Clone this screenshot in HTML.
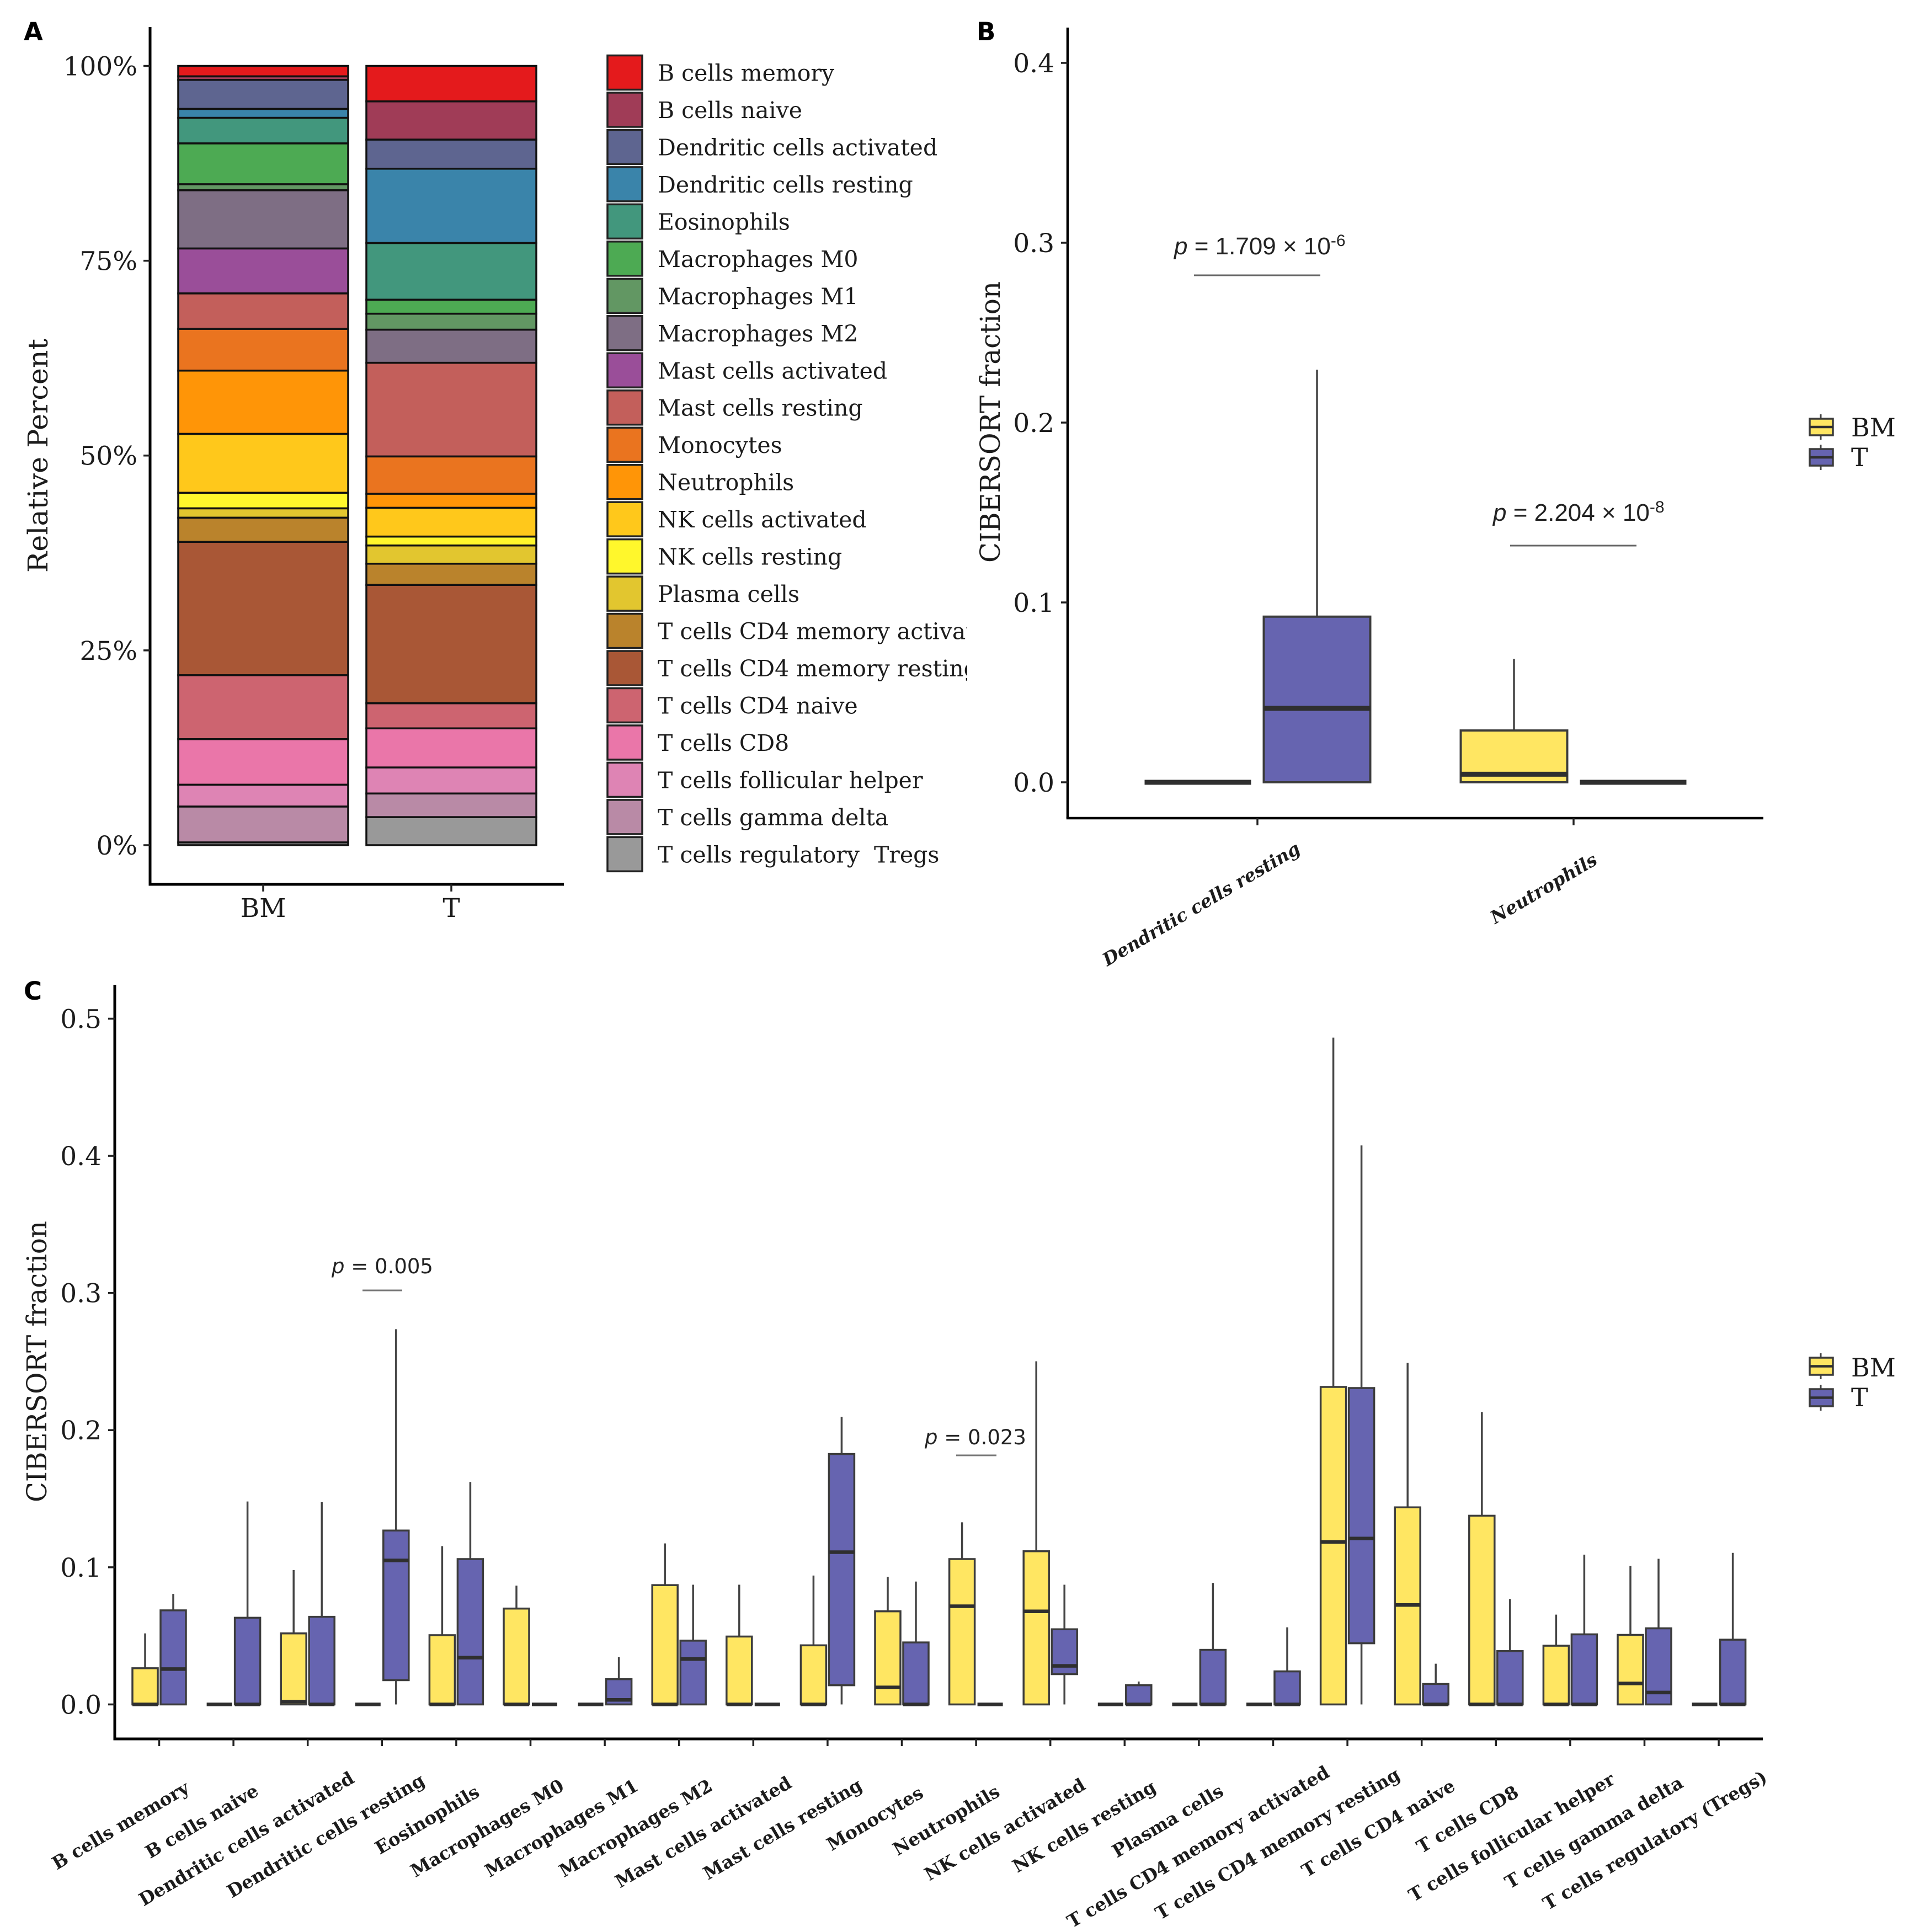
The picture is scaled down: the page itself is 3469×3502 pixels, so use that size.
<!DOCTYPE html>
<html lang="en">
<head>
<meta charset="utf-8">
<title>CIBERSORT immune cell fractions</title>
<style>
html,body{margin:0;padding:0;background:#fff;}
svg{display:block;}
text{font-family:"DejaVu Serif","Liberation Serif",serif;fill:#1c1c1c;white-space:pre;}
.letter{font-family:"DejaVu Sans","Liberation Sans",sans-serif;font-weight:700;font-size:45px;fill:#000;}
.pval{font-family:"DejaVu Sans","Liberation Sans",sans-serif;font-size:37px;fill:#222;}
.pvalb{font-family:"Liberation Sans","DejaVu Sans",sans-serif;font-size:44px;fill:#222;}
</style>
</head>
<body>
<svg id="fig" xmlns="http://www.w3.org/2000/svg" width="3469" height="3502" viewBox="0 0 3469 3502">
  <rect x="0" y="0" width="3469" height="3502" fill="#fff"/>
  <defs><clipPath id="legendClip"><rect x="1090" y="80" width="663" height="1520"/></clipPath></defs>

  <text class="letter" x="43" y="73">A</text>
  <text class="letter" x="1770" y="73">B</text>
  <text class="letter" x="43" y="1812">C</text>

  <g id="panelA">
    <text id="titleA" transform="translate(86,826) rotate(-90)" text-anchor="middle" font-size="50" textLength="424" lengthAdjust="spacingAndGlyphs">Relative Percent</text>
  </g>
  <g id="legendA" clip-path="url(#legendClip)"></g>

  <g id="panelB">
    <text transform="translate(1812,765) rotate(-90)" text-anchor="middle" font-size="50" textLength="510" lengthAdjust="spacingAndGlyphs">CIBERSORT fraction</text>
    <text class="pvalb" x="2128" y="461"><tspan font-style="italic">p</tspan> = 1.709 × 10<tspan dy="-15" font-size="30">-6</tspan></text>
    <line x1="2164" x2="2393" y1="499" y2="499" stroke="#666" stroke-width="3"/>
    <text class="pvalb" x="2706" y="944"><tspan font-style="italic">p</tspan> = 2.204 × 10<tspan dy="-15" font-size="30">-8</tspan></text>
    <line x1="2737" x2="2966" y1="989" y2="989" stroke="#666" stroke-width="3"/>
  </g>

  <g id="panelC">
    <text transform="translate(84,2468) rotate(-90)" text-anchor="middle" font-size="50" textLength="510" lengthAdjust="spacingAndGlyphs">CIBERSORT fraction</text>
    <text class="pval" x="601" y="2308"><tspan font-style="italic">p</tspan> = 0.005</text>
    <line x1="657" x2="729" y1="2339" y2="2339" stroke="#777" stroke-width="3"/>
    <text class="pval" x="1676" y="2618"><tspan font-style="italic">p</tspan> = 0.023</text>
    <line x1="1733" x2="1806" y1="2638" y2="2638" stroke="#777" stroke-width="3"/>
  </g>
</svg>
<script>
/* ---------- Panel A data ---------- */
var stackCategories = ["B cells memory","B cells naive","Dendritic cells activated","Dendritic cells resting","Eosinophils","Macrophages M0","Macrophages M1","Macrophages M2","Mast cells activated","Mast cells resting","Monocytes","Neutrophils","NK cells activated","NK cells resting","Plasma cells","T cells CD4 memory activated","T cells CD4 memory resting","T cells CD4 naive","T cells CD8","T cells follicular helper","T cells gamma delta","T cells regulatory  Tregs"];
var stackColors = ["#e41a1c","#a03c57","#5e6590","#3a84aa","#42977d","#4daa53","#629763","#7e6e84","#9a4e99","#c35f5b","#ea741f","#ff9507","#ffc81b","#fff72c","#e2c62f","#ba832c","#a95736","#cd6470","#ea76a9","#de84b4","#b98aa6","#999999"];
var stackBM = [1.34,0.45,3.73,1.14,3.28,5.24,0.77,7.47,5.76,4.55,5.35,8.12,7.55,2.0,1.2,3.1,17.1,8.2,5.85,2.8,4.6,0.35];
var stackT = [4.55,4.91,3.73,9.54,7.27,1.8,2.05,4.25,0,12.02,4.79,1.8,3.69,1.14,2.34,2.72,15.19,3.22,5.02,3.34,3.03,3.6];
var stackGroups = ["BM","T"];
var stackTicks = [0,25,50,75,100];
var stackTickLabels = ["0%","25%","50%","75%","100%"];

/* ---------- Panel B data ---------- */
var bCategories = ["Dendritic cells resting","Neutrophils"];
var bTicks = [0,0.1,0.2,0.3,0.4];
var bTickLabels = ["0.0","0.1","0.2","0.3","0.4"];
var bBMq1 = [0,0];
var bBMmed = [0,0.0045];
var bBMq3 = [0,0.0288];
var bBMhi = [0,0.0686];
var bBMlo = [0,0];
var bTq1 = [0,0];
var bTmed = [0.0411,0];
var bTq3 = [0.0921,0];
var bThi = [0.2294,0];
var bTlo = [0,0];

/* ---------- Panel C data ---------- */
var cCategories = ["B cells memory","B cells naive","Dendritic cells activated","Dendritic cells resting","Eosinophils","Macrophages M0","Macrophages M1","Macrophages M2","Mast cells activated","Mast cells resting","Monocytes","Neutrophils","NK cells activated","NK cells resting","Plasma cells","T cells CD4 memory activated","T cells CD4 memory resting","T cells CD4 naive","T cells CD8","T cells follicular helper","T cells gamma delta","T cells regulatory (Tregs)"];
var cTicks = [0,0.1,0.2,0.3,0.4,0.5];
var cTickLabels = ["0.0","0.1","0.2","0.3","0.4","0.5"];
var cBMq1 = [0,0,0,0,0,0,0,0,0,0,0,0,0,0,0,0,0,0,0,0,0,0];
var cBMmed = [0,0,0.002,0,0,0,0,0,0,0,0.0124,0.0716,0.0679,0,0,0,0.1184,0.0725,0,0,0.0153,0];
var cBMq3 = [0.0264,0,0.0518,0,0.0505,0.0699,0,0.087,0.0495,0.0431,0.0679,0.106,0.1117,0,0,0,0.2315,0.1437,0.1376,0.0428,0.0507,0];
var cBMhi = [0.0518,0,0.098,0,0.1154,0.0866,0,0.1174,0.0873,0.094,0.093,0.1328,0.2502,0,0,0,0.4862,0.249,0.2132,0.0655,0.1009,0];
var cBMlo = [0,0,0,0,0,0,0,0,0,0,0,0,0,0,0,0,0,0,0,0,0,0];
var cTq1 = [0,0,0,0.0177,0,0,0,0,0,0.014,0,0,0.0221,0,0,0,0.0446,0,0,0,0,0];
var cTmed = [0.0258,0,0,0.105,0.0341,0,0.0033,0.0331,0,0.111,0,0,0.0281,0,0,0,0.121,0,0,0,0.0087,0];
var cTq3 = [0.0686,0.0632,0.0639,0.1268,0.106,0,0.0184,0.0465,0,0.1826,0.0452,0,0.0548,0.014,0.0398,0.0241,0.2307,0.0149,0.0389,0.0511,0.0555,0.0472];
var cThi = [0.0806,0.148,0.1475,0.2736,0.1622,0,0.0344,0.0873,0,0.2097,0.0896,0,0.0873,0.0167,0.0886,0.0562,0.4076,0.0297,0.0769,0.1092,0.1062,0.1105];
var cTlo = [0,0,0,0,0,0,0,0,0,0,0,0,0,0,0,0,0,0,0,0,0,0];

var legendGroups = ["BM","T"];
var YELLOW = "#ffe662", BLUE = "#6664b0", EDGE = "#3c3c3c";
var NS = "http://www.w3.org/2000/svg";

function mk(tag, parent, attrs) {
  var e = document.createElementNS(NS, tag);
  for (var k in attrs) e.setAttribute(k, attrs[k]);
  parent.appendChild(e);
  return e;
}
function linear(zeroPx, pxPerUnit) { return function (v) { return zeroPx - v * pxPerUnit; }; }
function slug(s) { return s.toLowerCase().replace(/[^a-z0-9]+/g, '-').replace(/-$/, ''); }

function drawAxes(parent, x0, top, right, bottom, w, yScale, ticks, labels, labelRight, fs) {
  var yAxis = mk('line', parent, {x1:x0, x2:x0, y1:top, y2:bottom, stroke:'#000', 'stroke-width':w});
  
  
  var xAxis = mk('line', parent, {x1:x0 - w/2, x2:right, y1:bottom, y2:bottom, stroke:'#000', 'stroke-width':w});
  
  
  ticks.forEach(function (t, i) {
    var y = yScale(t);
    var tick = mk('line', parent, {x1:x0 - 12, x2:x0, y1:y, y2:y, stroke:'#222', 'stroke-width':3.5});
    
    
    var lab = mk('text', parent, {x:labelRight, y:y + fs * 0.36, 'text-anchor':'end', 'font-size':fs});
    lab.textContent = labels[i];
    
    
  });
}

/* ---------- Panel A ---------- */
(function () {
  var g = document.getElementById('panelA');
  var yA = linear(1532, 14.125);
  var barX = [323, 664], barW = 308, tickX = [477, 818];
  var series = [stackBM, stackT];
  drawAxes(g, 272, 49, 1022, 1603, 5, yA, stackTicks, stackTickLabels, 249, 47);
  series.forEach(function (vals, s) {
    var total = vals.reduce(function (a, b) { return a + b; }, 0);
    var top = 100;
    vals.forEach(function (v, i) {
      var h = v / total * 100;
      if (h <= 0) return;
      var y1 = yA(top), y2 = yA(top - h);
      var r = mk('rect', g, {x:barX[s], y:y1, width:barW, height:y2 - y1, fill:stackColors[i], stroke:'#111', 'stroke-width':3.5});
      
      
      top -= h;
    });
    var t = mk('line', g, {x1:tickX[s], x2:tickX[s], y1:1603, y2:1616, stroke:'#222', 'stroke-width':3.5});
    
    
    var l = mk('text', g, {x:tickX[s], y:1662, 'text-anchor':'middle', 'font-size':47});
    l.textContent = stackGroups[s];
    
    
  });
  var lg = document.getElementById('legendA');
  stackCategories.forEach(function (c, i) {
    var top = 100.5 + i * 67.47;
    var sw = mk('rect', lg, {x:1101, y:top, width:63, height:62, fill:stackColors[i], stroke:'#222', 'stroke-width':3.5});
    
    
    var tx = mk('text', lg, {x:1192, y:top + 46, 'font-size':41});
    tx.textContent = c;
    
    
  });
})();

/* ---------- Box plots ---------- */
function drawBox(g, cx, w, y, q1, med, q3, hi, lo, fill, sw, mw, name) {
  var b = mk('g', g, {});
  
  
  if (hi > q3) {
    var wu = mk('line', b, {x1:cx, x2:cx, y1:y(hi), y2:y(q3), stroke:'#444', 'stroke-width':3.5});
    
    
  }
  if (lo < q1) {
    var wl = mk('line', b, {x1:cx, x2:cx, y1:y(q1), y2:y(lo), stroke:'#444', 'stroke-width':3.5});
    
    
  }
  var r = mk('rect', b, {x:cx - w/2, y:y(q3), width:w, height:y(q1) - y(q3), fill:fill, stroke:EDGE, 'stroke-width':sw});
  
  
  var m = mk('line', b, {x1:cx - w/2, x2:cx + w/2, y1:y(med), y2:y(med), stroke:'#2f2f2f', 'stroke-width':mw});
  
  
}

function drawCategoryLabel(g, tick, baseY, label, style) {
  var ang = 30.5, fs = 32.6;
  var t = mk('text', g, {'font-size':fs, 'font-weight':700, 'font-style':style, 'text-anchor':'middle'});
  t.textContent = label;
  
  
  var L = t.getComputedTextLength();
  var rad = ang * Math.PI / 180, off = (0.79 - 0.5) * L;
  var cx = tick - off * Math.cos(rad), cy = baseY + off * Math.sin(rad);
  t.setAttribute('transform', 'translate(' + cx + ',' + cy + ') rotate(' + (-ang) + ')');
  t.setAttribute('dy', fs * 0.36);
}

function drawKey(g, boxTop, boxH, fill, label, baseline) {
  var mid = boxTop + boxH / 2;
  var k = mk('line', g, {x1:3300, x2:3300, y1:boxTop - 8, y2:boxTop + boxH + 8, stroke:'#444', 'stroke-width':3});
  
  
  var r = mk('rect', g, {x:3280, y:boxTop, width:42, height:boxH, fill:fill, stroke:EDGE, 'stroke-width':3.5});
  
  
  var m = mk('line', g, {x1:3280, x2:3322, y1:mid, y2:mid, stroke:'#2f2f2f', 'stroke-width':4.5});
  
  
  var t = mk('text', g, {x:3355, y:baseline, 'font-size':46});
  t.textContent = label;
  
  
}

/* ---------- Panel B ---------- */
(function () {
  var g = document.getElementById('panelB');
  var yB = linear(1418, 3260);
  var ticksX = [2279, 2852], dodge = 108, w = 193;
  drawAxes(g, 1935, 50, 3196, 1483, 4.5, yB, bTicks, bTickLabels, 1911, 47);
  bCategories.forEach(function (c, i) {
    drawBox(g, ticksX[i] - dodge, w, yB, bBMq1[i], bBMmed[i], bBMq3[i], bBMhi[i], bBMlo[i], YELLOW, 4, 9, 'box-bm-' + slug(c));
    drawBox(g, ticksX[i] + dodge, w, yB, bTq1[i], bTmed[i], bTq3[i], bThi[i], bTlo[i], BLUE, 4, 9, 'box-t-' + slug(c));
    var t = mk('line', g, {x1:ticksX[i], x2:ticksX[i], y1:1483, y2:1496, stroke:'#222', 'stroke-width':3.5});
    
    
    drawCategoryLabel(g, ticksX[i], 1578, c, 'italic');
  });
  var lg = mk('g', g, {});
  
  
  drawKey(lg, 759, 30, YELLOW, legendGroups[0], 791);
  drawKey(lg, 814, 30, BLUE, legendGroups[1], 845);
})();

/* ---------- Panel C ---------- */
(function () {
  var g = document.getElementById('panelC');
  var yC = linear(3089.5, 2486);
  function xC(i) { return 288.5 + i * 134.6; }
  var dodge = 25.5, w = 46;
  drawAxes(g, 208, 1785, 3195, 3152, 5, yC, cTicks, cTickLabels, 184, 47);
  cCategories.forEach(function (c, i) {
    drawBox(g, xC(i) - dodge, w, yC, cBMq1[i], cBMmed[i], cBMq3[i], cBMhi[i], cBMlo[i], YELLOW, 3.5, 6.5, 'box-bm-' + slug(c));
    drawBox(g, xC(i) + dodge, w, yC, cTq1[i], cTmed[i], cTq3[i], cThi[i], cTlo[i], BLUE, 3.5, 6.5, 'box-t-' + slug(c));
    var t = mk('line', g, {x1:xC(i), x2:xC(i), y1:3152, y2:3165, stroke:'#222', 'stroke-width':3.5});
    
    
    drawCategoryLabel(g, xC(i), 3267, c, 'normal');
  });
  var lg = mk('g', g, {});
  
  
  drawKey(lg, 2461, 31, YELLOW, legendGroups[0], 2495);
  drawKey(lg, 2518, 31, BLUE, legendGroups[1], 2549);
})();
</script>
</body>
</html>
